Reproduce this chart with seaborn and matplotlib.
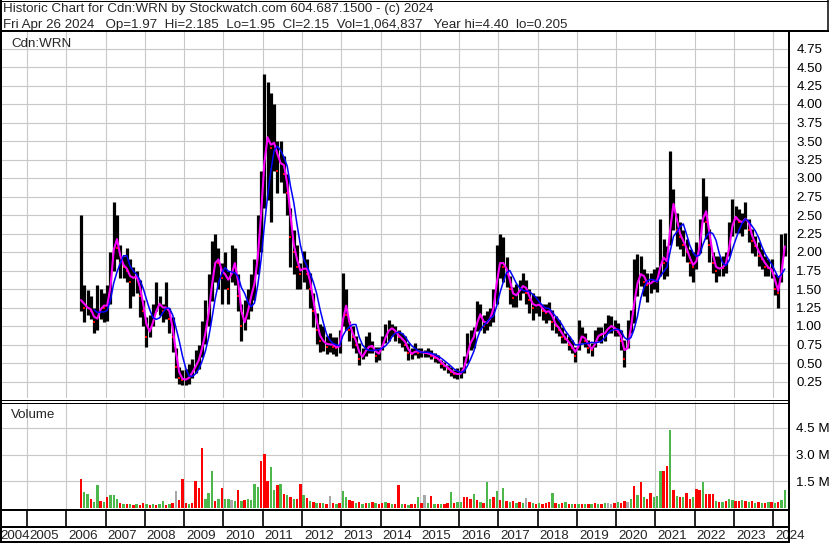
import numpy as np
import pandas as pd
import matplotlib
matplotlib.use("Agg")
import matplotlib.pyplot as plt
import matplotlib.transforms as mtrans
import seaborn as sns

# ---------------- data (monthly, May 2006 .. Apr 2024) ----------------
start_year, start_month = 2006, 5

high = [
    2.5, 1.55, 1.48, 1.4, 1.25, 1.55, 1.5, 1.45,                          # 2006
    1.55, 2.0, 2.67, 2.5, 2.1, 1.95, 2.05, 1.9, 1.8, 1.75, 1.62, 1.35,    # 2007
    1.12, 1.15, 1.3, 1.6, 1.4, 1.3, 1.6, 1.25, 1.12, 0.7, 0.45, 0.4,      # 2008
    0.42, 0.48, 0.55, 0.67, 0.75, 1.07, 1.35, 1.7, 2.15, 2.25, 2.05, 1.85,  # 2009
    2.0, 1.75, 2.1, 2.05, 1.7, 1.3, 1.35, 1.5, 1.7, 1.9, 2.5, 3.1,        # 2010
    4.4, 4.3, 4.15, 4.0, 3.5, 3.5, 3.3, 3.06, 2.6, 2.3, 2.1, 1.85,        # 2011
    2.02, 1.9, 1.72, 1.45, 1.17, 1.03, 1.0, 0.87, 0.9, 0.85, 0.85, 0.95,  # 2012
    1.72, 1.5, 1.07, 1.0, 0.86, 0.77, 0.7, 0.86, 0.92, 0.8, 0.72, 0.72,   # 2013
    0.86, 1.03, 1.08, 1.03, 1.0, 0.95, 0.9, 0.86, 0.77, 0.7, 0.77, 0.7,   # 2014
    0.7, 0.68, 0.7, 0.68, 0.63, 0.61, 0.54, 0.52, 0.47, 0.45, 0.41, 0.43,  # 2015
    0.45, 0.6, 0.9, 0.95, 0.98, 1.34, 1.3, 1.15, 1.2, 1.25, 1.5, 2.1,     # 2016
    2.25, 2.2, 1.93, 1.67, 1.53, 1.57, 1.62, 1.71, 1.62, 1.5, 1.44, 1.4,  # 2017
    1.4, 1.3, 1.3, 1.32, 1.22, 1.13, 1.08, 0.99, 0.9, 0.86, 0.81, 0.72,   # 2018
    1.08, 0.99, 0.9, 0.81, 0.77, 0.95, 0.99, 0.99, 1.04, 1.15, 1.13, 1.08,  # 2019
    1.04, 0.95, 0.81, 1.08, 1.22, 1.9, 1.97, 1.95, 1.77, 1.72, 1.72, 1.77,  # 2020
    1.8, 2.44, 2.17, 2.08, 3.36, 2.85, 2.53, 2.4, 2.3, 2.17, 2.04, 2.0,   # 2021
    2.13, 2.44, 3.0, 2.76, 2.31, 2.0, 1.95, 1.95, 1.95, 2.0, 2.4, 2.71,   # 2022
    2.62, 2.58, 2.53, 2.67, 2.44, 2.31, 2.22, 2.13, 2.04, 1.95, 1.9, 1.9,  # 2023
    1.7, 1.68, 2.25, 2.26,                                                # 2024
]
low = [
    1.2, 1.05, 1.15, 1.1, 0.9, 0.95, 1.1, 1.05,
    1.07, 1.3, 1.75, 1.9, 1.65, 1.65, 1.6, 1.25, 1.4, 1.45, 1.12, 1.0,
    0.72, 0.85, 1.0, 1.2, 1.15, 1.05, 1.1, 0.9, 0.65, 0.3, 0.22, 0.2,
    0.2, 0.22, 0.3, 0.36, 0.42, 0.58, 0.76, 1.0, 1.34, 1.6, 1.5, 1.3,
    1.5, 1.3, 1.6, 1.55, 1.2, 0.8, 0.95, 1.1, 1.2, 1.35, 1.7, 2.0,
    2.6, 2.7, 2.4, 3.1, 2.8, 2.95, 2.8, 2.5, 1.8, 1.7, 1.5, 1.5,
    1.6, 1.5, 1.25, 0.98, 0.76, 0.65, 0.66, 0.62, 0.65, 0.62, 0.6, 0.63,
    1.0, 0.95, 0.8, 0.7, 0.63, 0.47, 0.55, 0.6, 0.63, 0.63, 0.52, 0.54,
    0.68, 0.77, 0.8, 0.86, 0.8, 0.77, 0.72, 0.66, 0.54, 0.56, 0.61, 0.57,
    0.58, 0.58, 0.58, 0.55, 0.52, 0.5, 0.43, 0.41, 0.36, 0.33, 0.3, 0.29,
    0.3, 0.36, 0.5, 0.68, 0.7, 0.93, 0.95, 0.9, 0.95, 1.0, 1.05, 1.3,
    1.65, 1.6, 1.53, 1.3, 1.26, 1.26, 1.35, 1.44, 1.3, 1.17, 1.08, 1.17,
    1.13, 1.08, 1.04, 1.08, 0.95, 0.9, 0.86, 0.77, 0.77, 0.68, 0.63, 0.52,
    0.68, 0.77, 0.72, 0.63, 0.6, 0.72, 0.8, 0.77, 0.8, 0.9, 0.9, 0.86,
    0.86, 0.68, 0.45, 0.7, 0.9, 1.04, 1.4, 1.54, 1.4, 1.32, 1.45, 1.5,
    1.46, 1.68, 1.63, 1.68, 2.1, 2.3, 2.08, 2.04, 1.95, 1.86, 1.68, 1.6,
    1.77, 1.99, 2.4, 2.17, 1.86, 1.72, 1.59, 1.68, 1.68, 1.72, 1.95, 2.22,
    2.26, 2.26, 2.22, 2.31, 2.13, 1.99, 1.95, 1.81, 1.77, 1.68, 1.68, 1.65,
    1.42, 1.25, 1.6, 1.95,
]
close = [
    1.35, 1.25, 1.25, 1.2, 1.05, 1.15, 1.3, 1.25,
    1.3, 1.75, 2.3, 2.05, 1.85, 1.8, 1.75, 1.6, 1.7, 1.65, 1.4, 1.2,
    0.85, 1.0, 1.1, 1.3, 1.3, 1.2, 1.3, 1.1, 0.85, 0.45, 0.3, 0.27,
    0.28, 0.32, 0.42, 0.48, 0.6, 0.8, 1.0, 1.35, 1.75, 1.95, 1.85, 1.65,
    1.75, 1.5, 1.9, 1.8, 1.4, 1.0, 1.1, 1.3, 1.5, 1.65, 2.2, 2.8,
    3.6, 3.5, 3.4, 3.55, 3.1, 3.3, 3.05, 2.8, 2.2, 2.0, 1.8, 1.7,
    1.85, 1.7, 1.5, 1.2, 0.95, 0.8, 0.8, 0.72, 0.78, 0.72, 0.7, 0.75,
    1.4, 1.15, 0.95, 0.85, 0.75, 0.55, 0.62, 0.7, 0.74, 0.72, 0.6, 0.65,
    0.78, 0.9, 0.97, 0.97, 0.9, 0.85, 0.82, 0.75, 0.63, 0.62, 0.68, 0.64,
    0.65, 0.63, 0.63, 0.6, 0.57, 0.55, 0.48, 0.46, 0.42, 0.38, 0.35, 0.35,
    0.36, 0.5, 0.72, 0.82, 0.88, 1.2, 1.12, 1.0, 1.08, 1.12, 1.35, 1.8,
    1.9, 1.8, 1.75, 1.5, 1.38, 1.45, 1.5, 1.58, 1.45, 1.35, 1.25, 1.3,
    1.28, 1.2, 1.18, 1.22, 1.05, 1.0, 0.95, 0.85, 0.82, 0.75, 0.7, 0.6,
    0.85, 0.87, 0.8, 0.7, 0.68, 0.82, 0.9, 0.88, 0.92, 1.0, 1.0, 0.95,
    0.92, 0.8, 0.55, 0.85, 1.1, 1.5, 1.65, 1.75, 1.6, 1.55, 1.6, 1.62,
    1.6, 2.0, 1.85, 1.9, 2.7, 2.6, 2.3, 2.2, 2.1, 2.0, 1.85, 1.8,
    1.95, 2.2, 2.7, 2.4, 2.1, 1.85, 1.75, 1.8, 1.78, 1.9, 2.2, 2.5,
    2.45, 2.4, 2.4, 2.5, 2.3, 2.15, 2.08, 1.95, 1.9, 1.8, 1.78, 1.75,
    1.5, 1.45, 2.0, 2.15,
]
volume_m = [
    1.65, 0.9, 0.8, 0.5, 0.35, 1.3, 0.4, 0.35,
    0.6, 0.75, 0.75, 0.5, 0.3, 0.2, 0.25, 0.2, 0.15, 0.2, 0.15, 0.28,
    0.2, 0.15, 0.2, 0.15, 0.2, 0.41, 0.15, 0.2, 0.3, 0.94, 0.47, 1.65,
    0.3, 0.25, 0.3, 1.54, 1.12, 3.4, 0.5, 0.82, 2.1, 0.4, 0.5, 1.12,
    0.5, 0.5, 0.45, 0.4, 1.03, 0.4, 0.45, 0.5, 0.45, 1.35, 1.2, 2.66,
    3.03, 1.54, 2.28, 1.0, 1.3, 1.35, 0.8, 0.75, 0.6, 0.5, 0.5, 1.35,
    0.75, 0.55, 0.4, 0.35, 0.3, 0.3, 0.3, 0.25, 0.65, 0.3, 0.25, 0.3,
    0.94, 0.6, 0.45, 0.4, 0.3, 0.35, 0.25, 0.3, 0.3, 0.35, 0.3, 0.25,
    0.3, 0.35, 0.3, 0.25, 0.2, 1.31, 0.2, 0.2, 0.15, 0.2, 0.25, 0.6,
    0.3, 0.71, 0.3, 0.66, 0.2, 0.25, 0.2, 0.25, 0.3, 0.88, 0.3, 0.35,
    0.35, 0.6, 0.6, 0.5, 0.79, 0.45, 0.35, 0.3, 1.46, 0.5, 0.6, 0.97,
    0.45, 1.12, 0.4, 0.35, 0.4, 0.3, 0.35, 0.3, 0.56, 0.35, 0.3, 0.25,
    0.3, 0.25, 0.3, 0.35, 0.84, 0.3, 0.25, 0.3, 0.35, 0.25, 0.2, 0.25,
    0.25, 0.2, 0.2, 0.25, 0.2, 0.3, 0.25, 0.25, 0.3, 0.3, 0.25, 0.3,
    0.35, 0.3, 0.4, 0.35, 0.5, 1.22, 0.75, 1.44, 0.6, 0.5, 0.84, 0.6,
    0.7, 2.1, 2.06, 2.38, 4.4, 1.0, 0.7, 0.6, 0.6, 0.82, 0.5, 0.6,
    1.09, 1.03, 1.46, 0.8, 0.8, 0.8, 0.4, 0.35, 0.35, 0.4, 0.5, 0.45,
    0.4, 0.4, 0.45, 0.4, 0.35, 0.4, 0.3, 0.35, 0.3, 0.3, 0.35, 0.35,
    0.3, 0.35, 0.45, 1.03,
]
# volume bar direction as seen in the chart: g = up, r = down, n = unchanged
volume_dir = (
    "rggrggrg"          # 2006 (May-Dec)
    "rgggrgrgrgrr"      # 2007
    "grgrggrgrnrr"      # 2008
    "rgrrrrgggrgr"      # 2009
    "ggngrgrggggr"      # 2010
    "rrggrgrgrgrr"      # 2011
    "grgrgrgrnrgr"      # 2012
    "ggrrgrgrgrgr"      # 2013
    "rgrgrrgrgrrg"      # 2014
    "rngrgrgrrgrg"      # 2015
    "grrrgrgrggrg"      # 2016
    "rgrgrgrgnrgr"      # 2017
    "grrrgrgrgrgr"      # 2018
    "grgrgrgrgnnr"      # 2019
    "grrngrgrgrrg"      # 2020
    "ggrrgrgrgrrg"      # 2021
    "rrgrrrgrgrgg"      # 2022
    "rrgrgrgrgrgr"      # 2023
    "grgg"              # 2024 (Jan-Apr)
)

year_labels = list(range(2004, 2025))
price_ticks = [0.25, 0.5, 0.75, 1.0, 1.25, 1.5, 1.75, 2.0, 2.25, 2.5,
               2.75, 3.0, 3.25, 3.5, 3.75, 4.0, 4.25, 4.5, 4.75]
volume_ticks = [1.5, 3.0, 4.5]

title_line1 = "Historic Chart for Cdn:WRN by Stockwatch.com 604.687.1500 - (c) 2024"
title_line2 = ("Fri Apr 26 2024   Op=1.97  Hi=2.185  Lo=1.95  Cl=2.15  "
               "Vol=1,064,837   Year hi=4.40  lo=0.205")
symbol = "Cdn:WRN"

# ---------------- table ----------------
n = len(close)
t = np.array([start_year + (start_month - 1 + i + 0.5) / 12.0 for i in range(n)])
df = pd.DataFrame({"t": t, "high": high, "low": low, "close": close,
                   "vol": volume_m, "dir": list(volume_dir)})
df["ma_short"] = df["close"].rolling(2, min_periods=1).mean()
df["ma_long"] = df["close"].rolling(5, min_periods=5).mean()
color_map = {"g": "#4cb84c", "r": "#ff0000", "n": "#a8a8a8"}
df["vcolor"] = df["dir"].map(color_map)
down = df["close"].diff().fillna(0.0) < 0

# ---------------- style / layout ----------------
sns.set_style("white")
plt.rcParams["font.family"] = ["Liberation Sans", "DejaVu Sans"]
FS = 9.6
GRID = "#c8c8c8"

W, H = 830, 543
fig = plt.figure(figsize=(W / 100, H / 100), dpi=100)
fig.patch.set_facecolor("white")


def ax_px(l, t_, r, b, **kw):
    return fig.add_axes([l / W, 1 - b / H, (r - l) / W, (b - t_) / H], **kw)


PX_PER_YEAR = 39.28
X0 = 2005 - 25 / PX_PER_YEAR
X1 = 2024 + 14.7 / PX_PER_YEAR
grid_years = year_labels[1:]

# price panel
ax_p = ax_px(2, 32, 788, 398)
ax_p.set_xlim(X0, X1)
ax_p.set_ylim(0.25 - 16.5 / 74, 0.25 + 349.5 / 74)
ax_p.set_xticks(grid_years)
ax_p.set_xticklabels([])
ax_p.set_yticks(price_ticks)
ax_p.set_yticklabels([f"{v:.2f}" for v in price_ticks])
ax_p.yaxis.tick_right()
ax_p.tick_params(axis="y", length=0, pad=6, labelsize=FS, labelcolor="black")
ax_p.tick_params(axis="x", length=0)
ax_p.grid(True, color=GRID, lw=0.8)
ax_p.set_axisbelow(True)
for s in ax_p.spines.values():
    s.set_visible(False)

ax_p.vlines(df["t"], df["low"], df["high"], color="black", lw=2.3, zorder=2, capstyle="butt")
ax_p.scatter(df["t"][down], df["close"][down], marker="s", s=3.5, color="red", lw=0, zorder=3)
sns.lineplot(data=df, x="t", y="ma_short", ax=ax_p, color="#ff00ff", lw=1.5,
             estimator=None, legend=False, zorder=4)
sns.lineplot(data=df, x="t", y="ma_long", ax=ax_p, color="#0000ff", lw=1.1,
             estimator=None, legend=False, zorder=5)
ax_p.set_xlabel("")
ax_p.set_ylabel("")
ax_p.text(9 / 786, 1 - (46.7 - 32) / 366, symbol, transform=ax_p.transAxes,
          fontsize=FS, va="baseline", ha="left")

# volume panel
ax_v = ax_px(2, 402, 788, 509)
ax_v.set_xlim(X0, X1)
ax_v.set_ylim(-1 / 17.78, 106 / 17.78)
ax_v.set_xticks(grid_years)
ax_v.set_xticklabels([])
ax_v.set_yticks(volume_ticks)
ax_v.set_yticklabels([f"{v:.1f} M" for v in volume_ticks])
ax_v.yaxis.tick_right()
ax_v.tick_params(axis="y", length=0, pad=6, labelsize=FS, labelcolor="black")
ax_v.tick_params(axis="x", length=0)
ax_v.grid(True, color=GRID, lw=0.8)
ax_v.set_axisbelow(True)
for s in ax_v.spines.values():
    s.set_visible(False)
ax_v.bar(df["t"], df["vol"], width=2.4 / PX_PER_YEAR, color=df["vcolor"], lw=0, zorder=2)
ax_v.text(9 / 786, 1 - (418 - 402) / 107, "Volume", transform=ax_v.transAxes,
          fontsize=FS, va="baseline", ha="left")

# date row
ax_d = ax_px(2, 510, 788, 543)
ax_d.set_xlim(X0, X1)
ax_d.set_ylim(543, 510)
ax_d.axis("off")
ax_d.vlines(grid_years, 510, 526, color="black", lw=1.2)
lab_tr = mtrans.offset_copy(ax_d.transData, fig=fig, x=2, y=0, units="dots")
for yr in year_labels[1:]:
    ax_d.text(yr, 539, str(yr), transform=lab_tr, ha="left", va="baseline",
              fontsize=FS, clip_on=False)
# first (partial) year sits in the narrow cell at the left edge
fig.text(0.5 / W, 1 - 539 / H, str(year_labels[0]), ha="left", va="baseline", fontsize=FS)

# frame overlay (pixel coordinates)
ax_o = fig.add_axes([0, 0, 1, 1], zorder=10)
ax_o.set_xlim(0, W)
ax_o.set_ylim(H, 0)
ax_o.axis("off")
ax_o.patch.set_alpha(0)
k = 0.72  # points per pixel
lines = [
    ((1, 1), (0, H), 2),          # left border
    ((0, 828), (0.5, 0.5), 1),    # title top
    ((828, 828), (0, 31), 1.5),   # title right
    ((0, 829), (30.5, 30.5), 2),  # title bottom
    ((789, 789), (31, H), 2),     # right border of chart
    ((0, 789), (399.5, 399.5), 1),
    ((0, 789), (402.5, 402.5), 1),
    ((0, 789), (509.5, 509.5), 2),
    ((0, 789), (526.5, 526.5), 2),
    ((0, 789), (542, 542), 2),
]
for xs, ys, w in lines:
    ax_o.plot(xs, ys, color="black", lw=w * k, solid_capstyle="butt")

fig.text(3 / W, 1 - 12.3 / H, title_line1, fontsize=FS, ha="left", va="baseline")
fig.text(3 / W, 1 - 28.3 / H, title_line2, fontsize=FS, ha="left", va="baseline")

fig.savefig("out.png", dpi=100)
